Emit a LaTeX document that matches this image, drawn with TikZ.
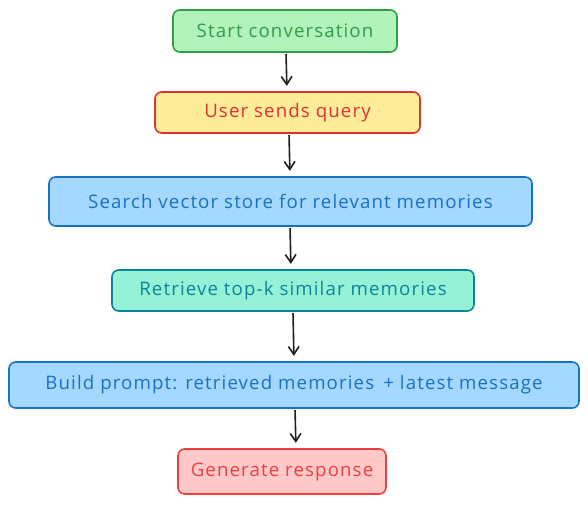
\documentclass[tikz,border=0pt]{standalone}
\usepackage{fontspec}
\setmainfont{Open Sans}[LetterSpace=6]
\usetikzlibrary{arrows.meta}
\definecolor{gfill}{HTML}{B2F2BB}\definecolor{gline}{HTML}{2F9E44}
\definecolor{yfill}{HTML}{FFEC99}\definecolor{rline}{HTML}{E03131}
\definecolor{bfill}{HTML}{A5D8FF}\definecolor{bline}{HTML}{1971C2}
\definecolor{tfill}{HTML}{96F2D7}\definecolor{tline}{HTML}{0C8599}
\definecolor{pfill}{HTML}{FFC9C9}\definecolor{pline}{HTML}{F03E3E}
\definecolor{arr}{HTML}{1E1E1E}
\begin{document}
\begin{tikzpicture}[x=0.75pt,y=-0.75pt,
  box/.style={draw, line width=1.2pt, rounded corners=5pt, inner sep=0pt,
    font=\fontsize{14}{16}\selectfont, align=center},
  flow/.style={draw=arr, line width=1.2pt, -{Straight Barb[length=6pt,width=8pt,line width=1.2pt]}, shorten >=4pt, shorten <=1pt}]
\useasboundingbox (0,0) rectangle (588,504);
\node[box, fill=gfill, draw=gline, text=gline, minimum width=168pt, minimum height=31.5pt] (s) at (285,31) {Start conversation};
\node[box, fill=yfill, draw=rline, text=rline, minimum width=198.75pt, minimum height=30.75pt] (u) at (287.5,112.5) {User sends query};
\node[box, fill=bfill, draw=bline, text=bline, minimum width=362.25pt, minimum height=36.75pt] (q) at (290.5,201.5) {Search vector store for relevant memories};
\node[box, fill=tfill, draw=tline, text=tline, minimum width=271.5pt, minimum height=30.75pt] (r) at (293,290.5) {Retrieve top-k similar memories};
\node[box, fill=bfill, draw=bline, text=bline, minimum width=427.5pt, minimum height=34.5pt] (b) at (294,385) {Build prompt: retrieved memories \,+ latest message};
\node[box, fill=pfill, draw=pline, text=pline, minimum width=156pt, minimum height=33.75pt] (g) at (282,471.5) {Generate response};
\draw[flow] (s.south -| 286,0) -- (u.north -| 287,0);
\draw[flow] (u.south -| 289,0) -- (q.north -| 290,0);
\draw[flow] (q.south -| 290,0) -- (r.north -| 291,0);
\draw[flow] (r.south -| 293,0) -- (b.north -| 294,0);
\draw[flow] (b.south -| 295,0) -- (g.north -| 296,0);
\end{tikzpicture}
\end{document}
